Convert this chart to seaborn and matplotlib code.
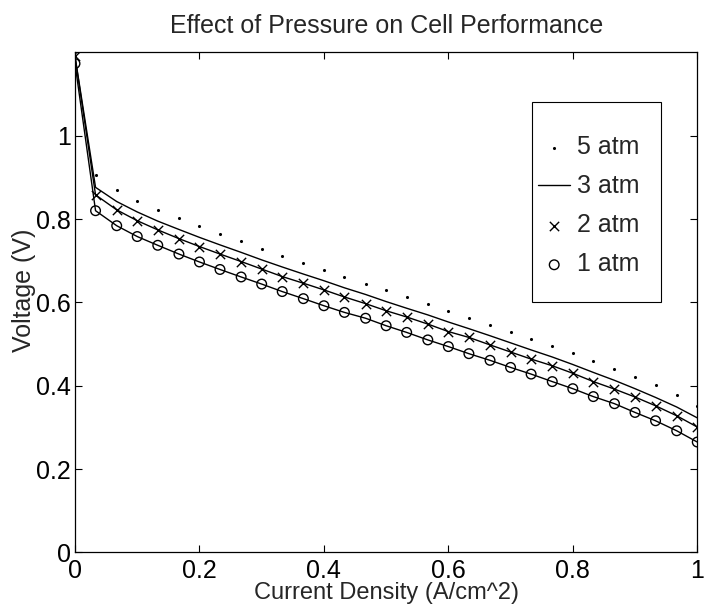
import matplotlib

matplotlib.use("Agg")
import matplotlib.pyplot as plt
import pandas as pd
import seaborn as sns
from matplotlib.patches import Rectangle
from matplotlib.ticker import FormatStrFormatter

# %% Data (current density in A/cm^2, voltage in V)
current_density = [
    0.000, 0.033, 0.067, 0.100, 0.133, 0.167, 0.200, 0.233, 0.267, 0.300, 0.333,
    0.367, 0.400, 0.433, 0.467, 0.500, 0.533, 0.567, 0.600, 0.633, 0.667,
    0.700, 0.733, 0.767, 0.800, 0.833, 0.867, 0.900, 0.933, 0.967, 1.000,
]
v_5atm = [
    1.200, 0.906, 0.870, 0.844, 0.822, 0.802, 0.784, 0.765, 0.747, 0.729, 0.712,
    0.694, 0.678, 0.661, 0.645, 0.630, 0.612, 0.596, 0.579, 0.563, 0.545,
    0.529, 0.513, 0.496, 0.478, 0.460, 0.441, 0.422, 0.402, 0.378, 0.352,
]
v_3atm = [
    1.190, 0.876, 0.842, 0.817, 0.795, 0.775, 0.756, 0.738, 0.720, 0.702, 0.685,
    0.668, 0.652, 0.635, 0.619, 0.602, 0.586, 0.570, 0.553, 0.537, 0.520,
    0.503, 0.486, 0.469, 0.451, 0.432, 0.413, 0.393, 0.372, 0.349, 0.323,
]
v_2atm = [
    1.190, 0.858, 0.822, 0.796, 0.774, 0.753, 0.734, 0.716, 0.698, 0.680, 0.662,
    0.646, 0.630, 0.613, 0.597, 0.580, 0.565, 0.548, 0.530, 0.516, 0.498,
    0.481, 0.464, 0.448, 0.430, 0.410, 0.392, 0.373, 0.352, 0.328, 0.301,
]
v_1atm = [
    1.173, 0.820, 0.784, 0.758, 0.737, 0.716, 0.697, 0.679, 0.661, 0.644, 0.626,
    0.609, 0.592, 0.576, 0.562, 0.544, 0.528, 0.510, 0.494, 0.477, 0.461,
    0.444, 0.428, 0.410, 0.393, 0.374, 0.357, 0.336, 0.316, 0.292, 0.265,
]
legend_order = ["5 atm", "3 atm", "2 atm", "1 atm"]

df = pd.DataFrame(
    {
        "j": current_density,
        "5 atm": v_5atm,
        "3 atm": v_3atm,
        "2 atm": v_2atm,
        "1 atm": v_1atm,
    }
)

# %% Style
sns.set_style("ticks")
plt.rcParams["font.family"] = ["Liberation Sans", "DejaVu Sans"]
plt.rcParams["xtick.direction"] = "in"
plt.rcParams["ytick.direction"] = "in"

fig = plt.figure(figsize=(7.05, 6.09), dpi=100)
ax = fig.add_axes([0.1064, 0.0928, 0.8826, 0.8213])

# 5 atm: dots only
sns.scatterplot(data=df, x="j", y="5 atm", ax=ax, marker="o", s=5,
                color="k", edgecolor="k", linewidth=0, label="5 atm")
# 3 atm: plain line
sns.lineplot(data=df, x="j", y="3 atm", ax=ax, color="k", lw=1.0, label="3 atm")
# 2 atm: line with crosses
sns.lineplot(data=df, x="j", y="2 atm", ax=ax, color="k", lw=1.0, legend=False)
sns.scatterplot(data=df, x="j", y="2 atm", ax=ax, marker="x", s=45,
                color="k", linewidth=1.0, label="2 atm")
# 1 atm: line with open circles
sns.lineplot(data=df, x="j", y="1 atm", ax=ax, color="k", lw=1.0, legend=False)
sns.scatterplot(data=df, x="j", y="1 atm", ax=ax, marker="o", s=48,
                facecolor="none", edgecolor="k", linewidth=1.0, label="1 atm")

ax.set_xlim(0, 1)
ax.set_ylim(0, 1.2)
ax.set_xticks([0, 0.2, 0.4, 0.6, 0.8, 1.0])
ax.set_yticks([0, 0.2, 0.4, 0.6, 0.8, 1.0])
ax.xaxis.set_major_formatter(FormatStrFormatter("%g"))
ax.yaxis.set_major_formatter(FormatStrFormatter("%g"))
ax.tick_params(axis="both", which="major", labelsize=18, length=5, width=0.8,
               top=True, right=True, colors="k")
ax.tick_params(axis="x", pad=5)
ax.tick_params(axis="y", pad=3)
for spine in ax.spines.values():
    spine.set_visible(True)
    spine.set_color("k")
    spine.set_linewidth(0.9)

ax.set_title("Effect of Pressure on Cell Performance", fontsize=18, pad=14)
ax.set_xlabel("Current Density (A/cm^2)", fontsize=17, labelpad=-1)
ax.set_ylabel("Voltage (V)", fontsize=18)
ax.yaxis.set_label_coords(-0.062, 0.524)

# legend: entries without their own frame, box drawn around them like MATLAB
handles, labels = ax.get_legend_handles_labels()
lookup = dict(zip(labels, handles))
leg = ax.legend(
    [lookup[k] for k in legend_order],
    legend_order,
    loc="upper left",
    bbox_to_anchor=(0.744, 0.834),
    fontsize=18,
    frameon=False,
    borderpad=0,
    handlelength=1.3,
    handletextpad=0.25,
    labelspacing=0.6,
    borderaxespad=0,
)
ax.add_patch(Rectangle((0.7344, 0.5), 0.208, 0.4, transform=ax.transAxes,
                       facecolor="white", edgecolor="k", lw=0.8, zorder=4))
leg.set_zorder(5)

fig.savefig("out.png", dpi=100)
